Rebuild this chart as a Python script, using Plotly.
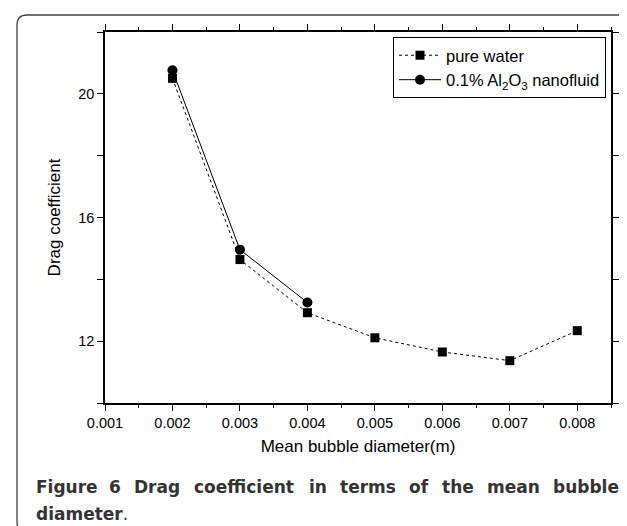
import plotly.graph_objects as go

# ---- data ----
diameter = [0.002, 0.003, 0.004, 0.005, 0.006, 0.007, 0.008]
drag_water = [20.50, 14.64, 12.92, 12.11, 11.65, 11.37, 12.34]
diameter_nano = [0.002, 0.003, 0.004]
drag_nano = [20.76, 14.96, 13.25]

x_ticks = [0.001, 0.002, 0.003, 0.004, 0.005, 0.006, 0.007, 0.008]
y_ticks = [12, 16, 20]

series_names = ["pure water", "0.1% Al<sub>2</sub>O<sub>3</sub> nanofluid"]
x_title = "Mean bubble diameter(m)"
y_title = "Drag coefficient"
caption_words = ["Figure", "6", "Drag", "coefficient", "in", "terms", "of", "the", "mean", "bubble"]
caption_word_x = [27, 100, 125, 185, 300, 331, 400, 433, 478, 544]

# ---- layout geometry (pixels) ----
W, H = 627, 526
L, R, T, B = 97, 603, 24, 395


def px(x):
    return (x - L) / (R - L)


def py(y):
    return (B - y) / (B - T)


fig = go.Figure()
fig.add_trace(go.Scatter(
    x=diameter, y=drag_water, name=series_names[0], mode="lines+markers",
    line=dict(color="black", width=1, dash="dot"),
    marker=dict(symbol="square", size=9, color="black"),
))
fig.add_trace(go.Scatter(
    x=diameter_nano, y=drag_nano, name=series_names[1], mode="lines+markers",
    line=dict(color="black", width=1),
    marker=dict(symbol="circle", size=10, color="black"),
))

sans = "Liberation Sans, Arial, sans-serif"
axis_font = dict(family=sans, size=14.5, color="black")
title_font = dict(family=sans, size=17, color="black")

fig.update_xaxes(
    range=[0.001, 0.0085], tickvals=x_ticks, tickformat=".3f",
    ticks="outside", ticklen=6, tickwidth=1.2, tickcolor="black",
    minor=dict(dtick=0.0005, tick0=0.001, ticks="outside", ticklen=3, tickcolor="black"),
    showline=True, linecolor="black", linewidth=1.5, mirror="ticks",
    showgrid=False, zeroline=False, tickfont=axis_font,
    title=dict(text=x_title, font=title_font, standoff=10),
)
fig.update_yaxes(
    range=[10, 22], tickvals=y_ticks,
    ticks="outside", ticklen=6, tickwidth=1.2, tickcolor="black",
    minor=dict(dtick=2, tick0=10, ticks="outside", ticklen=6, tickcolor="black"),
    showline=True, linecolor="black", linewidth=1.5, mirror="ticks",
    showgrid=False, zeroline=False, tickfont=axis_font,
    title=dict(text=y_title, font=title_font, standoff=13),
)

# rounded outer frame
x0, x1, y0, y1, r = 9, 622, 7, 524, 10
path = (
    f"M {px(x0)},{py(y0 + r)} "
    f"Q {px(x0)},{py(y0)} {px(x0 + r)},{py(y0)} "
    f"L {px(x1 - r)},{py(y0)} "
    f"Q {px(x1)},{py(y0)} {px(x1)},{py(y0 + r)} "
    f"L {px(x1)},{py(y1 - r)} "
    f"Q {px(x1)},{py(y1)} {px(x1 - r)},{py(y1)} "
    f"L {px(x0 + r)},{py(y1)} "
    f"Q {px(x0)},{py(y1)} {px(x0)},{py(y1 - r)} Z"
)
shapes = [dict(type="path", path=path, xref="paper", yref="paper",
               line=dict(color="#444", width=1.3), layer="below")]

cap_font = dict(family="DejaVu Sans", size=17, color="#333")
annotations = []
for w, xw in zip(caption_words, caption_word_x):
    annotations.append(dict(text=f"<b>{w}</b>", x=px(xw), y=py(479), xref="paper", yref="paper",
                            xanchor="left", yanchor="middle", showarrow=False, font=cap_font,
                            borderpad=0))
annotations.append(dict(text="<b>diameter</b>.", x=px(27), y=py(506), xref="paper", yref="paper",
                        xanchor="left", yanchor="middle", showarrow=False, font=cap_font,
                        borderpad=0))

fig.update_layout(
    width=W, height=H,
    margin=dict(l=L, r=W - R, t=T, b=H - B, pad=0),
    paper_bgcolor="white", plot_bgcolor="white",
    showlegend=True,
    legend=dict(x=px(598), y=py(29), xanchor="right", yanchor="top",
                bordercolor="black", borderwidth=1, bgcolor="white",
                font=dict(family=sans, size=16.5, color="black"),
                itemwidth=42, tracegroupgap=0),
    shapes=shapes, annotations=annotations,
)

fig.write_html("out.html")
